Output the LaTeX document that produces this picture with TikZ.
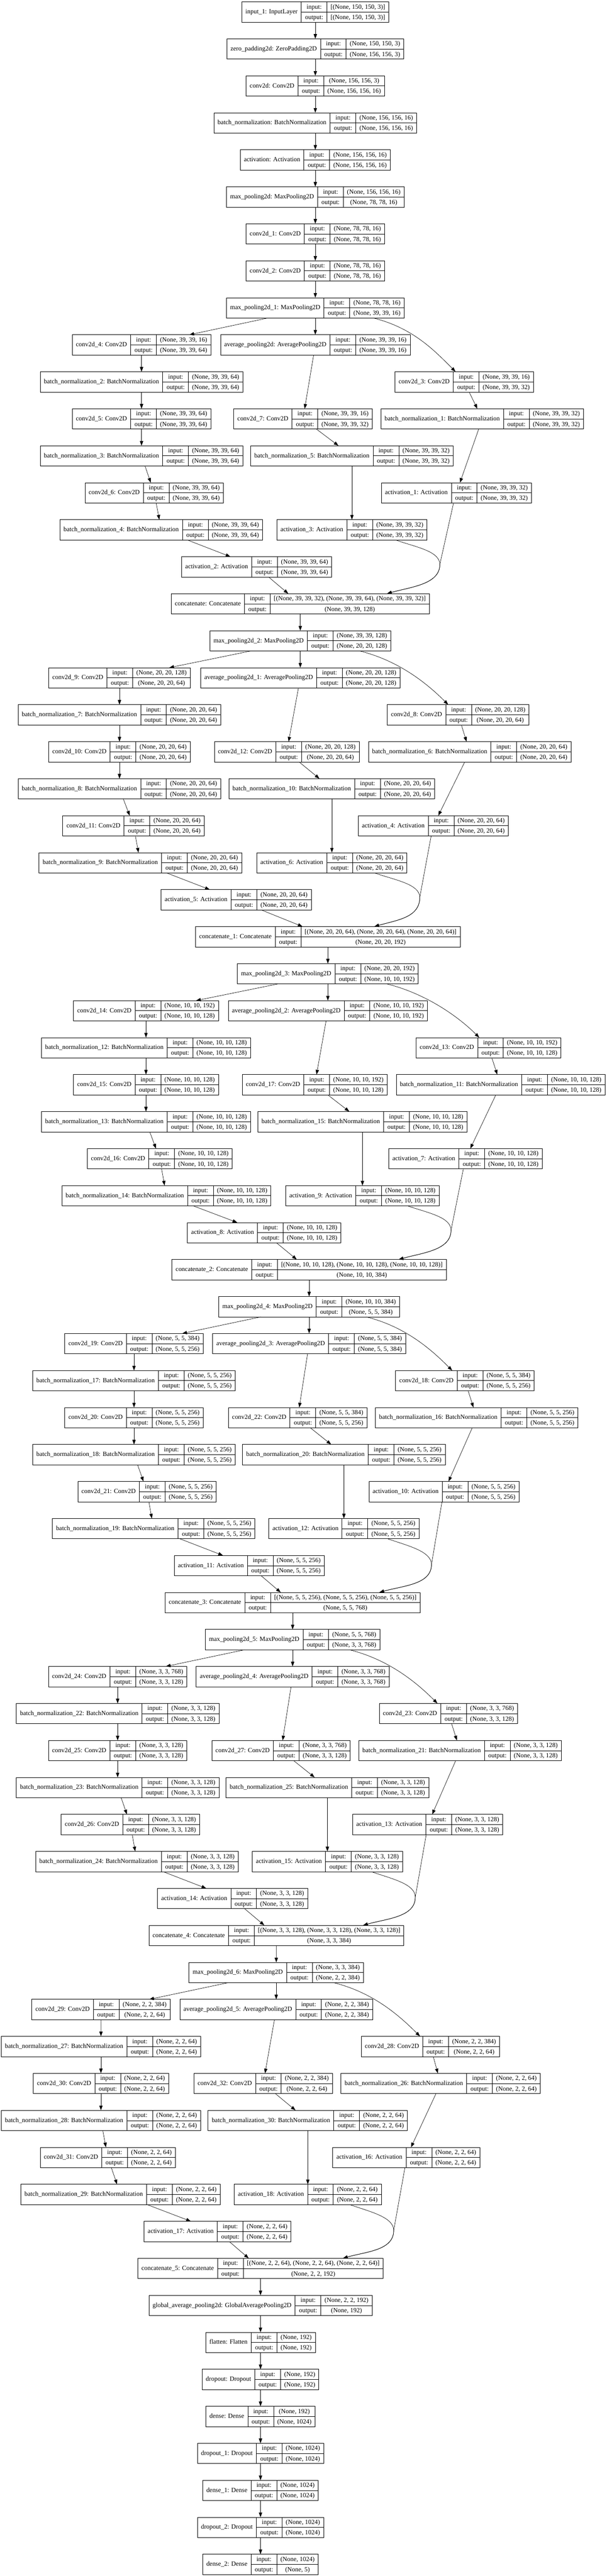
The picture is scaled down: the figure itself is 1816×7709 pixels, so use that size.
\documentclass[tikz,border=0pt]{standalone}
\usepackage{fontspec}
\setmainfont{Liberation Serif}
\usepackage{tikz}
\usetikzlibrary{arrows.meta,calc}

\setlength{\tabcolsep}{5.5pt}
\setlength{\arrayrulewidth}{0.6pt}
\renewcommand{\arraystretch}{1.3}

% one keras layer record: name | input/output | shapes
\newcommand{\rec}[3]{\begin{tabular}{c|@{}c@{}}#1&\begin{tabular}{c|c}input:&#2\\\hline output:&#3\end{tabular}\end{tabular}}
\newcommand{\kerasnode}[6]{\node[recbox] (#1) at ({#2},{35.9+110.7*(#3)}) {\rec{#4}{#5}{#6}};}

\begin{document}
\begin{tikzpicture}[x=0.5pt, y=-0.5pt,
    recbox/.style={draw, line width=0.6pt, inner sep=0pt, outer sep=0pt, font=\fontsize{9.6}{11.5}\selectfont},
    edge/.style={-{Triangle[length=7pt,width=5pt]}, line width=0.5pt}]
    \useasboundingbox (0,0) rectangle (1816,7709);

    % Stem
    \kerasnode{input1}{943.5}{0}{input\_1: InputLayer}{[(None, 150, 150, 3)]}{[(None, 150, 150, 3)]}
    \kerasnode{zpad}{943.5}{1}{zero\_padding2d: ZeroPadding2D}{(None, 150, 150, 3)}{(None, 156, 156, 3)}
    \kerasnode{conv2d}{943.5}{2}{conv2d: Conv2D}{(None, 156, 156, 3)}{(None, 156, 156, 16)}
    \kerasnode{bn}{943.5}{3}{batch\_normalization: BatchNormalization}{(None, 156, 156, 16)}{(None, 156, 156, 16)}
    \kerasnode{act}{943.5}{4}{activation: Activation}{(None, 156, 156, 16)}{(None, 156, 156, 16)}
    \kerasnode{mpool}{943.5}{5}{max\_pooling2d: MaxPooling2D}{(None, 156, 156, 16)}{(None, 78, 78, 16)}
    \kerasnode{conv2d1}{943.5}{6}{conv2d\_1: Conv2D}{(None, 78, 78, 16)}{(None, 78, 78, 16)}
    \kerasnode{conv2d2}{943.5}{7}{conv2d\_2: Conv2D}{(None, 78, 78, 16)}{(None, 78, 78, 16)}
    \kerasnode{mpool1}{943.5}{8}{max\_pooling2d\_1: MaxPooling2D}{(None, 78, 78, 16)}{(None, 39, 39, 16)}
    \draw[edge] (input1) -- (zpad);
    \draw[edge] (zpad) -- (conv2d);
    \draw[edge] (conv2d) -- (bn);
    \draw[edge] (bn) -- (act);
    \draw[edge] (act) -- (mpool);
    \draw[edge] (mpool) -- (conv2d1);
    \draw[edge] (conv2d1) -- (conv2d2);
    \draw[edge] (conv2d2) -- (mpool1);

    % Block 1
    \kerasnode{conv2d4}{423.5}{9}{conv2d\_4: Conv2D}{(None, 39, 39, 16)}{(None, 39, 39, 64)}
    \kerasnode{avgpool}{943.5}{9}{average\_pooling2d: AveragePooling2D}{(None, 39, 39, 16)}{(None, 39, 39, 16)}
    \kerasnode{bn2}{423.5}{10}{batch\_normalization\_2: BatchNormalization}{(None, 39, 39, 64)}{(None, 39, 39, 64)}
    \kerasnode{conv2d3}{1389}{10}{conv2d\_3: Conv2D}{(None, 39, 39, 16)}{(None, 39, 39, 32)}
    \kerasnode{conv2d5}{423.5}{11}{conv2d\_5: Conv2D}{(None, 39, 39, 64)}{(None, 39, 39, 64)}
    \kerasnode{conv2d7}{906.5}{11}{conv2d\_7: Conv2D}{(None, 39, 39, 16)}{(None, 39, 39, 32)}
    \kerasnode{bn1}{1443}{11}{batch\_normalization\_1: BatchNormalization}{(None, 39, 39, 32)}{(None, 39, 39, 32)}
    \kerasnode{bn3}{423.5}{12}{batch\_normalization\_3: BatchNormalization}{(None, 39, 39, 64)}{(None, 39, 39, 64)}
    \kerasnode{bn5}{1053}{12}{batch\_normalization\_5: BatchNormalization}{(None, 39, 39, 32)}{(None, 39, 39, 32)}
    \kerasnode{conv2d6}{461.5}{13}{conv2d\_6: Conv2D}{(None, 39, 39, 64)}{(None, 39, 39, 64)}
    \kerasnode{act1}{1365.5}{13}{activation\_1: Activation}{(None, 39, 39, 32)}{(None, 39, 39, 32)}
    \kerasnode{bn4}{482.5}{14}{batch\_normalization\_4: BatchNormalization}{(None, 39, 39, 64)}{(None, 39, 39, 64)}
    \kerasnode{act3}{1053}{14}{activation\_3: Activation}{(None, 39, 39, 32)}{(None, 39, 39, 32)}
    \kerasnode{act2}{768}{15}{activation\_2: Activation}{(None, 39, 39, 64)}{(None, 39, 39, 64)}
    \kerasnode{concat}{898.5}{16}{concatenate: Concatenate}{[(None, 39, 39, 32), (None, 39, 39, 64), (None, 39, 39, 32)]}{(None, 39, 39, 128)}
    \draw[edge] (mpool1) -- (conv2d4);
    \draw[edge] (mpool1) -- (avgpool);
    \draw[edge] ($(mpool1.south)+(174.5,0)$) .. controls +(120,30) and +(-60,-60) .. ($(conv2d3.north)+(-26,0)$);
    \draw[edge] (conv2d4) -- (bn2);
    \draw[edge] (bn2) -- (conv2d5);
    \draw[edge] (conv2d5) -- (bn3);
    \draw[edge] (bn3) -- (conv2d6);
    \draw[edge] (conv2d6) -- (bn4);
    \draw[edge] (bn4) -- (act2);
    \draw[edge] (avgpool) -- (conv2d7);
    \draw[edge] (conv2d7) -- (bn5);
    \draw[edge] (bn5) -- (act3);
    \draw[edge] (conv2d3) -- (bn1);
    \draw[edge] (bn1) -- (act1);
    \draw[edge] (act2) -- (concat);
    \coordinate (v1) at ($(act3.south)+(263,73)$);
    \draw[edge] ($(act1.south)+(-8.5,0)$) -- (v1) .. controls +(0,60) and +(70,-20) .. ($(concat.north)+(259.5,0)$);
    \draw[edge] ($(act3.south)+(131,0)$) .. controls +(60,21) and +(0,-40) .. (v1) .. controls +(0,60) and +(70,-20) .. ($(concat.north)+(259.5,0)$);

    % Block 2
    \kerasnode{mpool2}{898.5}{17}{max\_pooling2d\_2: MaxPooling2D}{(None, 39, 39, 128)}{(None, 20, 20, 128)}
    \kerasnode{conv2d9}{357.5}{18}{conv2d\_9: Conv2D}{(None, 20, 20, 128)}{(None, 20, 20, 64)}
    \kerasnode{avgpool1}{898.5}{18}{average\_pooling2d\_1: AveragePooling2D}{(None, 20, 20, 128)}{(None, 20, 20, 128)}
    \kerasnode{bn7}{357.5}{19}{batch\_normalization\_7: BatchNormalization}{(None, 20, 20, 64)}{(None, 20, 20, 64)}
    \kerasnode{conv2d8}{1371}{19}{conv2d\_8: Conv2D}{(None, 20, 20, 128)}{(None, 20, 20, 64)}
    \kerasnode{conv2d10}{357.5}{20}{conv2d\_10: Conv2D}{(None, 20, 20, 64)}{(None, 20, 20, 64)}
    \kerasnode{conv2d12}{858}{20}{conv2d\_12: Conv2D}{(None, 20, 20, 128)}{(None, 20, 20, 64)}
    \kerasnode{bn6}{1405.5}{20}{batch\_normalization\_6: BatchNormalization}{(None, 20, 20, 64)}{(None, 20, 20, 64)}
    \kerasnode{bn8}{357.5}{21}{batch\_normalization\_8: BatchNormalization}{(None, 20, 20, 64)}{(None, 20, 20, 64)}
    \kerasnode{bn10}{993}{21}{batch\_normalization\_10: BatchNormalization}{(None, 20, 20, 64)}{(None, 20, 20, 64)}
    \kerasnode{conv2d11}{399.5}{22}{conv2d\_11: Conv2D}{(None, 20, 20, 64)}{(None, 20, 20, 64)}
    \kerasnode{act4}{1296.5}{22}{activation\_4: Activation}{(None, 20, 20, 64)}{(None, 20, 20, 64)}
    \kerasnode{bn9}{420}{23}{batch\_normalization\_9: BatchNormalization}{(None, 20, 20, 64)}{(None, 20, 20, 64)}
    \kerasnode{act6}{993}{23}{activation\_6: Activation}{(None, 20, 20, 64)}{(None, 20, 20, 64)}
    \kerasnode{act5}{706.5}{24}{activation\_5: Activation}{(None, 20, 20, 64)}{(None, 20, 20, 64)}
    \kerasnode{concat1}{981}{25}{concatenate\_1: Concatenate}{[(None, 20, 20, 64), (None, 20, 20, 64), (None, 20, 20, 64)]}{(None, 20, 20, 192)}
    \draw[edge] (concat) -- (mpool2);
    \draw[edge] (mpool2) -- (conv2d9);
    \draw[edge] (mpool2) -- (avgpool1);
    \draw[edge] ($(mpool2.south)+(178.5,0)$) .. controls +(120,30) and +(-60,-60) .. ($(conv2d8.north)+(-30,0)$);
    \draw[edge] (conv2d9) -- (bn7);
    \draw[edge] (bn7) -- (conv2d10);
    \draw[edge] (conv2d10) -- (bn8);
    \draw[edge] (bn8) -- (conv2d11);
    \draw[edge] (conv2d11) -- (bn9);
    \draw[edge] (bn9) -- (act5);
    \draw[edge] (avgpool1) -- (conv2d12);
    \draw[edge] (conv2d12) -- (bn10);
    \draw[edge] (bn10) -- (act6);
    \draw[edge] (conv2d8) -- (bn6);
    \draw[edge] (bn6) -- (act4);
    \draw[edge] (act5) -- (concat1);
    \coordinate (v2) at ($(act6.south)+(263,73)$);
    \draw[edge] ($(act4.south)+(-6.5,0)$) -- (v2) .. controls +(0,60) and +(70,-20) .. ($(concat1.north)+(139,0)$);
    \draw[edge] ($(act6.south)+(128,0)$) .. controls +(60,21) and +(0,-40) .. (v2) .. controls +(0,60) and +(70,-20) .. ($(concat1.north)+(139,0)$);

    % Block 3
    \kerasnode{mpool3}{981}{26}{max\_pooling2d\_3: MaxPooling2D}{(None, 20, 20, 192)}{(None, 10, 10, 192)}
    \kerasnode{conv2d14}{436.8}{27}{conv2d\_14: Conv2D}{(None, 10, 10, 192)}{(None, 10, 10, 128)}
    \kerasnode{avgpool2}{981}{27}{average\_pooling2d\_2: AveragePooling2D}{(None, 10, 10, 192)}{(None, 10, 10, 192)}
    \kerasnode{bn12}{436.8}{28}{batch\_normalization\_12: BatchNormalization}{(None, 10, 10, 128)}{(None, 10, 10, 128)}
    \kerasnode{conv2d13}{1461.7}{28}{conv2d\_13: Conv2D}{(None, 10, 10, 192)}{(None, 10, 10, 128)}
    \kerasnode{conv2d15}{436.8}{29}{conv2d\_15: Conv2D}{(None, 10, 10, 128)}{(None, 10, 10, 128)}
    \kerasnode{conv2d17}{941.7}{29}{conv2d\_17: Conv2D}{(None, 10, 10, 192)}{(None, 10, 10, 128)}
    \kerasnode{bn11}{1498}{29}{batch\_normalization\_11: BatchNormalization}{(None, 10, 10, 128)}{(None, 10, 10, 128)}
    \kerasnode{bn13}{436.8}{30}{batch\_normalization\_13: BatchNormalization}{(None, 10, 10, 128)}{(None, 10, 10, 128)}
    \kerasnode{bn15}{1084.5}{30}{batch\_normalization\_15: BatchNormalization}{(None, 10, 10, 128)}{(None, 10, 10, 128)}
    \kerasnode{conv2d16}{478}{31}{conv2d\_16: Conv2D}{(None, 10, 10, 128)}{(None, 10, 10, 128)}
    \kerasnode{act7}{1392.8}{31}{activation\_7: Activation}{(None, 10, 10, 128)}{(None, 10, 10, 128)}
    \kerasnode{bn14}{498}{32}{batch\_normalization\_14: BatchNormalization}{(None, 10, 10, 128)}{(None, 10, 10, 128)}
    \kerasnode{act9}{1084.5}{32}{activation\_9: Activation}{(None, 10, 10, 128)}{(None, 10, 10, 128)}
    \kerasnode{act8}{790.5}{33}{activation\_8: Activation}{(None, 10, 10, 128)}{(None, 10, 10, 128)}
    \kerasnode{concat2}{925}{34}{concatenate\_2: Concatenate}{[(None, 10, 10, 128), (None, 10, 10, 128), (None, 10, 10, 128)]}{(None, 10, 10, 384)}
    \draw[edge] (concat1) -- (mpool3);
    \draw[edge] (mpool3) -- (conv2d14);
    \draw[edge] (mpool3) -- (avgpool2);
    \draw[edge] ($(mpool3.south)+(177,0)$) .. controls +(120,30) and +(-60,-60) .. ($(conv2d13.north)+(-27.7,0)$);
    \draw[edge] (conv2d14) -- (bn12);
    \draw[edge] (bn12) -- (conv2d15);
    \draw[edge] (conv2d15) -- (bn13);
    \draw[edge] (bn13) -- (conv2d16);
    \draw[edge] (conv2d16) -- (bn14);
    \draw[edge] (bn14) -- (act8);
    \draw[edge] (avgpool2) -- (conv2d17);
    \draw[edge] (conv2d17) -- (bn15);
    \draw[edge] (bn15) -- (act9);
    \draw[edge] (conv2d13) -- (bn11);
    \draw[edge] (bn11) -- (act7);
    \draw[edge] (act8) -- (concat2);
    \coordinate (v3) at ($(act9.south)+(265,73)$);
    \draw[edge] ($(act7.south)+(-6.4,0)$) -- (v3) .. controls +(0,60) and +(70,-20) .. ($(concat2.north)+(268,0)$);
    \draw[edge] ($(act9.south)+(135.6,0)$) .. controls +(60,21) and +(0,-40) .. (v3) .. controls +(0,60) and +(70,-20) .. ($(concat2.north)+(268,0)$);

    % Block 4
    \kerasnode{mpool4}{925}{35}{max\_pooling2d\_4: MaxPooling2D}{(None, 10, 10, 384)}{(None, 5, 5, 384)}
    \kerasnode{conv2d19}{401}{36}{conv2d\_19: Conv2D}{(None, 5, 5, 384)}{(None, 5, 5, 256)}
    \kerasnode{avgpool3}{925}{36}{average\_pooling2d\_3: AveragePooling2D}{(None, 5, 5, 384)}{(None, 5, 5, 384)}
    \kerasnode{bn17}{401}{37}{batch\_normalization\_17: BatchNormalization}{(None, 5, 5, 256)}{(None, 5, 5, 256)}
    \kerasnode{conv2d18}{1391}{37}{conv2d\_18: Conv2D}{(None, 5, 5, 384)}{(None, 5, 5, 256)}
    \kerasnode{conv2d20}{401}{38}{conv2d\_20: Conv2D}{(None, 5, 5, 256)}{(None, 5, 5, 256)}
    \kerasnode{conv2d22}{890.7}{38}{conv2d\_22: Conv2D}{(None, 5, 5, 384)}{(None, 5, 5, 256)}
    \kerasnode{bn16}{1426.4}{38}{batch\_normalization\_16: BatchNormalization}{(None, 5, 5, 256)}{(None, 5, 5, 256)}
    \kerasnode{bn18}{401}{39}{batch\_normalization\_18: BatchNormalization}{(None, 5, 5, 256)}{(None, 5, 5, 256)}
    \kerasnode{bn20}{1029}{39}{batch\_normalization\_20: BatchNormalization}{(None, 5, 5, 256)}{(None, 5, 5, 256)}
    \kerasnode{conv2d21}{440}{40}{conv2d\_21: Conv2D}{(None, 5, 5, 256)}{(None, 5, 5, 256)}
    \kerasnode{act10}{1328.5}{40}{activation\_10: Activation}{(None, 5, 5, 256)}{(None, 5, 5, 256)}
    \kerasnode{bn19}{459.8}{41}{batch\_normalization\_19: BatchNormalization}{(None, 5, 5, 256)}{(None, 5, 5, 256)}
    \kerasnode{act12}{1029}{41}{activation\_12: Activation}{(None, 5, 5, 256)}{(None, 5, 5, 256)}
    \kerasnode{act11}{746}{42}{activation\_11: Activation}{(None, 5, 5, 256)}{(None, 5, 5, 256)}
    \kerasnode{concat3}{875.6}{43}{concatenate\_3: Concatenate}{[(None, 5, 5, 256), (None, 5, 5, 256), (None, 5, 5, 256)]}{(None, 5, 5, 768)}
    \draw[edge] (concat2) -- (mpool4);
    \draw[edge] (mpool4) -- (conv2d19);
    \draw[edge] (mpool4) -- (avgpool3);
    \draw[edge] ($(mpool4.south)+(170.7,0)$) .. controls +(120,30) and +(-60,-60) .. ($(conv2d18.north)+(-38,0)$);
    \draw[edge] (conv2d19) -- (bn17);
    \draw[edge] (bn17) -- (conv2d20);
    \draw[edge] (conv2d20) -- (bn18);
    \draw[edge] (bn18) -- (conv2d21);
    \draw[edge] (conv2d21) -- (bn19);
    \draw[edge] (bn19) -- (act11);
    \draw[edge] (avgpool3) -- (conv2d22);
    \draw[edge] (conv2d22) -- (bn20);
    \draw[edge] (bn20) -- (act12);
    \draw[edge] (conv2d18) -- (bn16);
    \draw[edge] (bn16) -- (act10);
    \draw[edge] (act11) -- (concat3);
    \coordinate (v4) at ($(act12.south)+(262,77)$);
    \draw[edge] ($(act10.south)+(-6,0)$) -- (v4) .. controls +(0,60) and +(70,-20) .. ($(concat3.north)+(259.5,0)$);
    \draw[edge] ($(act12.south)+(131.5,0)$) .. controls +(60,21) and +(0,-40) .. (v4) .. controls +(0,60) and +(70,-20) .. ($(concat3.north)+(259.5,0)$);

    % Block 5
    \kerasnode{mpool5}{875.6}{44}{max\_pooling2d\_5: MaxPooling2D}{(None, 5, 5, 768)}{(None, 3, 3, 768)}
    \kerasnode{conv2d24}{352}{45}{conv2d\_24: Conv2D}{(None, 3, 3, 768)}{(None, 3, 3, 128)}
    \kerasnode{avgpool4}{875.6}{45}{average\_pooling2d\_4: AveragePooling2D}{(None, 3, 3, 768)}{(None, 3, 3, 768)}
    \kerasnode{bn22}{352}{46}{batch\_normalization\_22: BatchNormalization}{(None, 3, 3, 128)}{(None, 3, 3, 128)}
    \kerasnode{conv2d23}{1341.8}{46}{conv2d\_23: Conv2D}{(None, 3, 3, 768)}{(None, 3, 3, 128)}
    \kerasnode{conv2d25}{352}{47}{conv2d\_25: Conv2D}{(None, 3, 3, 128)}{(None, 3, 3, 128)}
    \kerasnode{conv2d27}{841}{47}{conv2d\_27: Conv2D}{(None, 3, 3, 768)}{(None, 3, 3, 128)}
    \kerasnode{bn21}{1376.6}{47}{batch\_normalization\_21: BatchNormalization}{(None, 3, 3, 128)}{(None, 3, 3, 128)}
    \kerasnode{bn23}{352}{48}{batch\_normalization\_23: BatchNormalization}{(None, 3, 3, 128)}{(None, 3, 3, 128)}
    \kerasnode{bn25}{979.6}{48}{batch\_normalization\_25: BatchNormalization}{(None, 3, 3, 128)}{(None, 3, 3, 128)}
    \kerasnode{conv2d26}{390.3}{49}{conv2d\_26: Conv2D}{(None, 3, 3, 128)}{(None, 3, 3, 128)}
    \kerasnode{act13}{1279.8}{49}{activation\_13: Activation}{(None, 3, 3, 128)}{(None, 3, 3, 128)}
    \kerasnode{bn24}{410}{50}{batch\_normalization\_24: BatchNormalization}{(None, 3, 3, 128)}{(None, 3, 3, 128)}
    \kerasnode{act15}{979.6}{50}{activation\_15: Activation}{(None, 3, 3, 128)}{(None, 3, 3, 128)}
    \kerasnode{act14}{696}{51}{activation\_14: Activation}{(None, 3, 3, 128)}{(None, 3, 3, 128)}
    \kerasnode{concat4}{827}{52}{concatenate\_4: Concatenate}{[(None, 3, 3, 128), (None, 3, 3, 128), (None, 3, 3, 128)]}{(None, 3, 3, 384)}
    \draw[edge] (concat3) -- (mpool5);
    \draw[edge] (mpool5) -- (conv2d24);
    \draw[edge] (mpool5) -- (avgpool4);
    \draw[edge] ($(mpool5.south)+(170.3,0)$) .. controls +(120,30) and +(-60,-60) .. ($(conv2d23.north)+(-33,0)$);
    \draw[edge] (conv2d24) -- (bn22);
    \draw[edge] (bn22) -- (conv2d25);
    \draw[edge] (conv2d25) -- (bn23);
    \draw[edge] (bn23) -- (conv2d26);
    \draw[edge] (conv2d26) -- (bn24);
    \draw[edge] (bn24) -- (act14);
    \draw[edge] (avgpool4) -- (conv2d27);
    \draw[edge] (conv2d27) -- (bn25);
    \draw[edge] (bn25) -- (act15);
    \draw[edge] (conv2d23) -- (bn21);
    \draw[edge] (bn21) -- (act13);
    \draw[edge] (act14) -- (concat4);
    \coordinate (v5) at ($(act15.south)+(263,76)$);
    \draw[edge] ($(act13.south)+(-4.6,0)$) -- (v5) .. controls +(0,60) and +(70,-20) .. ($(concat4.north)+(259.4,0)$);
    \draw[edge] ($(act15.south)+(132,0)$) .. controls +(60,21) and +(0,-40) .. (v5) .. controls +(0,60) and +(70,-20) .. ($(concat4.north)+(259.4,0)$);

    % Block 6
    \kerasnode{mpool6}{826.5}{53}{max\_pooling2d\_6: MaxPooling2D}{(None, 3, 3, 384)}{(None, 2, 2, 384)}
    \kerasnode{conv2d29}{302.3}{54}{conv2d\_29: Conv2D}{(None, 2, 2, 384)}{(None, 2, 2, 64)}
    \kerasnode{avgpool5}{826.5}{54}{average\_pooling2d\_5: AveragePooling2D}{(None, 2, 2, 384)}{(None, 2, 2, 384)}
    \kerasnode{bn27}{302}{55}{batch\_normalization\_27: BatchNormalization}{(None, 2, 2, 64)}{(None, 2, 2, 64)}
    \kerasnode{conv2d28}{1288}{55}{conv2d\_28: Conv2D}{(None, 2, 2, 384)}{(None, 2, 2, 64)}
    \kerasnode{conv2d30}{302}{56}{conv2d\_30: Conv2D}{(None, 2, 2, 64)}{(None, 2, 2, 64)}
    \kerasnode{conv2d32}{787.6}{56}{conv2d\_32: Conv2D}{(None, 2, 2, 384)}{(None, 2, 2, 64)}
    \kerasnode{bn26}{1318.6}{56}{batch\_normalization\_26: BatchNormalization}{(None, 2, 2, 64)}{(None, 2, 2, 64)}
    \kerasnode{bn28}{302}{57}{batch\_normalization\_28: BatchNormalization}{(None, 2, 2, 64)}{(None, 2, 2, 64)}
    \kerasnode{bn30}{921}{57}{batch\_normalization\_30: BatchNormalization}{(None, 2, 2, 64)}{(None, 2, 2, 64)}
    \kerasnode{conv2d31}{322.6}{58}{conv2d\_31: Conv2D}{(None, 2, 2, 64)}{(None, 2, 2, 64)}
    \kerasnode{act16}{1215.6}{58}{activation\_16: Activation}{(None, 2, 2, 64)}{(None, 2, 2, 64)}
    \kerasnode{bn29}{360.8}{59}{batch\_normalization\_29: BatchNormalization}{(None, 2, 2, 64)}{(None, 2, 2, 64)}
    \kerasnode{act18}{921}{59}{activation\_18: Activation}{(None, 2, 2, 64)}{(None, 2, 2, 64)}
    \kerasnode{act17}{651}{60}{activation\_17: Activation}{(None, 2, 2, 64)}{(None, 2, 2, 64)}
    \kerasnode{concat5}{779.5}{61}{concatenate\_5: Concatenate}{[(None, 2, 2, 64), (None, 2, 2, 64), (None, 2, 2, 64)]}{(None, 2, 2, 192)}
    \draw[edge] (concat4) -- (mpool6);
    \draw[edge] (mpool6) -- (conv2d29);
    \draw[edge] (mpool6) -- (avgpool5);
    \draw[edge] ($(mpool6.south)+(172.4,0)$) .. controls +(120,30) and +(-60,-60) .. ($(conv2d28.north)+(-31.3,0)$);
    \draw[edge] (conv2d29) -- (bn27);
    \draw[edge] (bn27) -- (conv2d30);
    \draw[edge] (conv2d30) -- (bn28);
    \draw[edge] (bn28) -- (conv2d31);
    \draw[edge] (conv2d31) -- (bn29);
    \draw[edge] (bn29) -- (act17);
    \draw[edge] (avgpool5) -- (conv2d32);
    \draw[edge] (conv2d32) -- (bn30);
    \draw[edge] (bn30) -- (act18);
    \draw[edge] (conv2d28) -- (bn26);
    \draw[edge] (bn26) -- (act16);
    \draw[edge] (act17) -- (concat5);
    \coordinate (v6) at ($(act18.south)+(257,77)$);
    \draw[edge] ($(act16.south)+(-4,0)$) -- (v6) .. controls +(0,60) and +(70,-20) .. ($(concat5.north)+(246.7,0)$);
    \draw[edge] ($(act18.south)+(126,0)$) .. controls +(60,21) and +(0,-40) .. (v6) .. controls +(0,60) and +(70,-20) .. ($(concat5.north)+(246.7,0)$);

    % Head
    \kerasnode{gap}{779.5}{62}{global\_average\_pooling2d: GlobalAveragePooling2D}{(None, 2, 2, 192)}{(None, 192)}
    \kerasnode{flatten}{779.5}{63}{flatten: Flatten}{(None, 192)}{(None, 192)}
    \kerasnode{dropout}{779.5}{64}{dropout: Dropout}{(None, 192)}{(None, 192)}
    \kerasnode{dense}{779.5}{65}{dense: Dense}{(None, 192)}{(None, 1024)}
    \kerasnode{dropout1}{779.5}{66}{dropout\_1: Dropout}{(None, 1024)}{(None, 1024)}
    \kerasnode{dense1}{779.5}{67}{dense\_1: Dense}{(None, 1024)}{(None, 1024)}
    \kerasnode{dropout2}{779.5}{68}{dropout\_2: Dropout}{(None, 1024)}{(None, 1024)}
    \kerasnode{dense2}{779.5}{69}{dense\_2: Dense}{(None, 1024)}{(None, 5)}
    \draw[edge] (concat5) -- (gap);
    \draw[edge] (gap) -- (flatten);
    \draw[edge] (flatten) -- (dropout);
    \draw[edge] (dropout) -- (dense);
    \draw[edge] (dense) -- (dropout1);
    \draw[edge] (dropout1) -- (dense1);
    \draw[edge] (dense1) -- (dropout2);
    \draw[edge] (dropout2) -- (dense2);
\end{tikzpicture}
\end{document}
